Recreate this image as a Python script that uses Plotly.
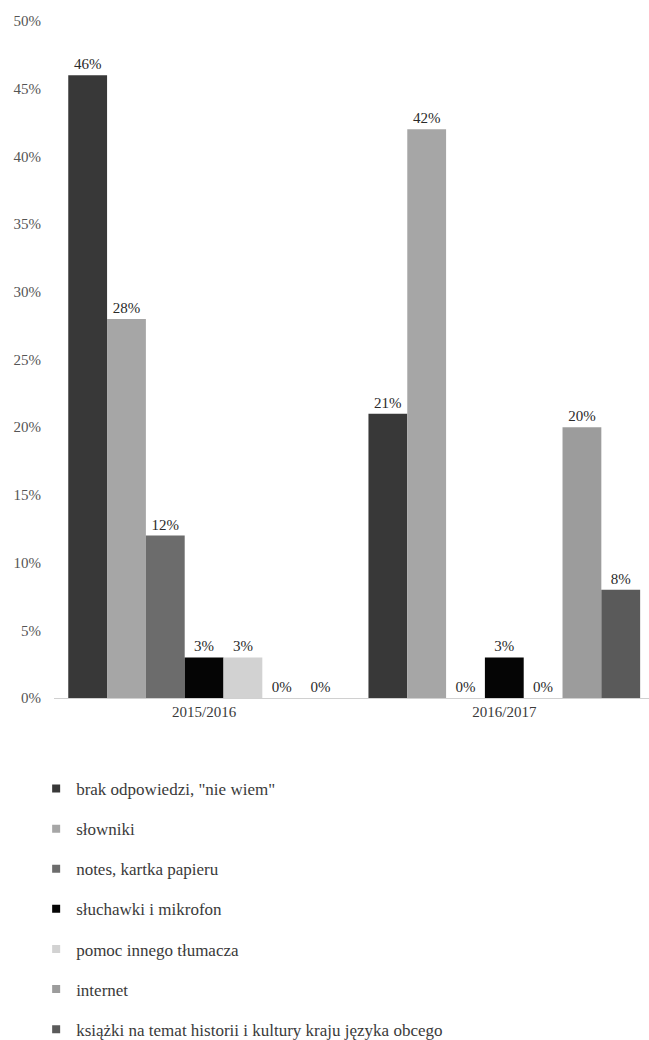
import plotly.graph_objects as go

categories = ["2015/2016", "2016/2017"]
series_names = [
    "brak odpowiedzi, \"nie wiem\"",
    "słowniki",
    "notes, kartka papieru",
    "słuchawki i mikrofon",
    "pomoc innego tłumacza",
    "internet",
    "książki na temat historii i kultury kraju języka obcego",
]
brak = [46, 21]
slowniki = [28, 42]
notes = [12, 0]
sluchawki = [3, 3]
pomoc = [3, 0]
internet = [0, 20]
ksiazki = [0, 8]
series_values = [brak, slowniki, notes, sluchawki, pomoc, internet, ksiazki]
colors = ["#383838", "#a6a6a6", "#6c6c6c", "#050505", "#d2d2d2", "#9c9c9c", "#5a5a5a"]
y_ticks = [0, 5, 10, 15, 20, 25, 30, 35, 40, 45, 50]

FONT = "Liberation Serif"

fig = go.Figure()
for i, (name, vals, col) in enumerate(zip(series_names, series_values, colors)):
    fig.add_trace(go.Bar(
        x=categories, y=vals, name=name, marker_color=col, marker_line_width=0,
        text=[f"{v}%" for v in vals], textposition="outside",
        textfont=dict(family=FONT, size=15, color="#2a2a2a"),
        cliponaxis=False, showlegend=False,
    ))
for i, (name, col) in enumerate(zip(series_names, colors)):
    fig.add_trace(go.Scatter(
        x=[None], y=[None], mode="markers", name=name,
        marker=dict(symbol="square", size=8, color=col),
        legendgroup=f"g{i}", showlegend=True,
    ))

fig.update_layout(
    width=649, height=1040,
    margin=dict(l=54, r=0, t=21, b=0, autoexpand=False),
    paper_bgcolor="white", plot_bgcolor="white",
    barmode="group", bargap=0.095, bargroupgap=0,
    font=dict(family=FONT, size=15, color="#444444"),
    xaxis=dict(
        range=[-0.5, 1.482], showgrid=False, zeroline=False,
        showline=True, linecolor="#d0d0d0", linewidth=1,
        ticks="", tickfont=dict(family=FONT, size=15, color="#3a3a3a"),
    ),
    yaxis=dict(
        domain=[342 / 1019, 1],
        range=[0, 50], tickvals=y_ticks, ticktext=[f"{v}%" for v in y_ticks],
        showgrid=False, zeroline=False, showline=False, ticks="",
        ticklabelstandoff=12,
        tickfont=dict(family=FONT, size=15, color="#555555"),
    ),
    legend=dict(
        orientation="v", x=-0.03, xanchor="left", y=269 / 1019, yanchor="top",
        font=dict(family=FONT, size=17, color="#3a3a3a"),
        traceorder="grouped", tracegroupgap=15, bgcolor="rgba(0,0,0,0)",
    ),
)

fig.write_html("out.html")
